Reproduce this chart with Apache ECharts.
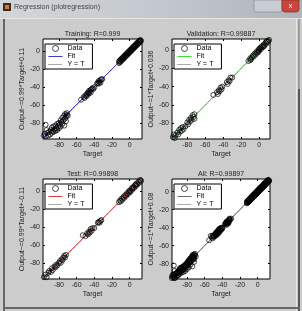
<!DOCTYPE html>
<html>
<head>
<meta charset="utf-8">
<script src="https://cdn.jsdelivr.net/npm/echarts@6/dist/echarts.min.js"></script>
<style>
html, body { margin: 0; padding: 0; background: #cccccc; }
#main { width: 302px; height: 311px; }
</style>
</head>
<body>
<div id="main"></div>
<script>
// panel texts
var panelTitles = ['Training: R=0.999', 'Validation: R=0.99887', 'Test: R=0.99898', 'All: R=0.99897'];
var yAxisNames = ['Output~=0.99*Target+0.11', 'Output~=1*Target+0.036', 'Output~=0.99*Target+-0.11', 'Output~=1*Target+0.08'];
var tickValues = [-80, -60, -40, -20, 0];
var axisMin = [-98, -97, -98, -97];
var axisMax = [14, 12, 14, 14];
var fitSlope = [0.99, 1, 0.99, 1];
var fitIntercept = [0.11, 0.036, -0.11, 0.08];
var fitColors = ['#3b3bd8', '#3cdc3c', '#e03a3a', '#6a6a6a'];

// [target, output] pairs
var trainPts = [
    [-97,-94],[-96,-92],[-95,-95],[-95,-82],[-94,-88],[-93,-91],[-92,-94],[-91,-90],[-90,-93],[-89,-88],
    [-88,-85],[-88,-91],[-87,-89],[-86,-84],[-86,-90],[-85,-87],[-84,-83],[-84,-89],[-83,-86],[-82,-81],
    [-82,-88],[-81,-84],[-80,-86],[-80,-80],[-79,-82],[-78,-77],[-78,-84],[-77,-79],[-76,-74],[-76,-81],
    [-75,-77],[-74,-72],[-74,-83],[-73,-75],[-73,-70],[-72,-78],[-72,-73],[-71,-71],[-71,-69],[-70,-72],
    [-55,-54],[-52,-51],[-51,-52],[-50,-49],[-49,-50],[-48,-47],[-48,-49],[-47,-46],[-46,-47],[-46,-44],
    [-45,-45],[-44,-43],[-44,-46],[-43,-42],[-42,-41],[-41,-42],[-40,-40],[-37,-36],[-36,-35],[-35,-36],
    [-35,-33],[-34,-34],[-33,-32],[-33,-35],[-32,-31],[-31,-31],
    [-12,-13],[-12,-11],[-11,-12],[-11,-10],[-10,-11],[-10,-9],[-9,-10],[-9,-8],[-8,-9],[-8,-7],
    [-7,-8],[-7,-6],[-6,-7],[-6,-5],[-5,-6],[-5,-4],[-4,-5],[-4,-3],[-3,-4],[-3,-2],
    [-2,-3],[-2,-1],[-1,-2],[-1,0],[0,-1],[0,1],[1,0],[1,2],[2,1],[2,3],
    [3,2],[3,4],[4,3],[4,5],[5,4],[5,6],[6,5],[6,7],[7,6],[7,8],
    [8,7],[8,9],[9,8],[9,10],[10,9],[10,11],[11,10],[11,12],[12,11],[12,13],[13,12]
];
var valPts = [
    [-96,-95],[-95,-92],[-94,-96],[-93,-93],[-91,-90],[-90,-92],[-89,-87],[-88,-89],[-87,-85],[-86,-88],
    [-85,-84],[-84,-86],[-82,-83],[-80,-79],[-79,-81],[-78,-76],[-77,-78],[-76,-74],[-75,-76],[-74,-71],
    [-73,-73],[-72,-70],[-72,-75],
    [-51,-49],[-47,-46],[-46,-48],[-45,-44],[-44,-45],[-43,-41],[-42,-43],[-41,-40],[-36,-35],[-35,-37],
    [-34,-33],[-33,-34],[-32,-30],[-30,-30],
    [-12,-12],[-10,-11],[-10,-9],[-9,-10],[-8,-8],[-7,-6],[-6,-7],[-5,-4],[-4,-5],[-3,-2],[-2,-3],
    [-1,0],[-1,-2],[0,-1],[0,1],[1,2],[2,1],[2,3],[3,4],[4,3],[5,6],[5,4],[6,5],[7,8],[8,7],
    [8,9],[9,10],[10,9],[11,11]
];
var testPts = [
    [-97,-96],[-95,-93],[-94,-96],[-92,-91],[-91,-89],[-89,-90],[-88,-86],[-87,-88],[-85,-84],[-84,-85],
    [-83,-82],[-82,-83],[-80,-80],[-79,-78],[-78,-80],[-77,-76],[-76,-77],[-75,-74],[-74,-72],[-73,-74],
    [-72,-71],
    [-53,-49],[-50,-50],[-48,-47],[-47,-48],[-46,-45],[-45,-46],[-44,-42],[-43,-44],[-42,-41],[-40,-41],
    [-36,-35],[-35,-34],[-34,-35],[-33,-33],[-32,-32],
    [-12,-12],[-11,-10],[-10,-11],[-9,-8],[-8,-9],[-7,-6],[-6,-7],[-5,-4],[-4,-5],[-3,-2],
    [-2,-3],[-1,0],[0,-1],[0,1],[1,0],[2,3],[3,2],[3,4],[4,5],[5,4],[6,7],[7,6],
    [7,8],[8,9],[9,8],[10,11],[11,10],[12,13],[13,12]
];
var allPts = trainPts.concat(valPts, testPts);

var panelData = [trainPts, valPts, testPts, allPts];
var legendLabels = { Data: 'Data', Fit: 'Fit', YT: 'Y = T' };

var boxes = [[43, 39, 99, 100], [172, 39, 98, 100], [43, 179, 99, 100], [172, 179, 98, 100]];
var font = 'Liberation Sans';

var grids = [], xAxes = [], yAxes = [], series = [], legends = [], graphics = [];

// window frame bits
graphics.push(
    { type: 'rect', shape: { x: 0, y: 0, width: 302, height: 18 }, style: { fill: new echarts.graphic.LinearGradient(0, 0, 1, 0, [{ offset: 0, color: '#d3d6da' }, { offset: 0.5, color: '#c4c9cf' }, { offset: 1, color: '#aeb4bb' }]) }, z: 10 },
    { type: 'rect', shape: { x: 0, y: 18, width: 302, height: 1 }, style: { fill: '#e4e4e4' }, z: 10 },
    { type: 'rect', shape: { x: 3, y: 3, width: 8, height: 8 }, style: { fill: '#3a2a20' }, z: 11 },
    { type: 'rect', shape: { x: 5, y: 5, width: 4, height: 4 }, style: { fill: '#d9772a' }, z: 12 },
    { type: 'text', x: 14, y: 7.5, style: { text: 'Regression (plotregression)', fontSize: 7, fontFamily: font, fill: '#444', textVerticalAlign: 'middle' }, z: 12 },
    { type: 'rect', shape: { x: 254, y: 0, width: 28, height: 12, r: [0, 0, 2, 2] }, style: { fill: '#c9cdd3', stroke: '#8d939b', lineWidth: 0.8 }, z: 11 },
    { type: 'rect', shape: { x: 282, y: 0, width: 17, height: 12, r: [0, 0, 3, 3] }, style: { fill: '#c8463d', stroke: '#8e2e28', lineWidth: 0.8 }, z: 11 },
    { type: 'text', x: 290.5, y: 6, style: { text: 'x', fontSize: 7, fontFamily: font, fill: '#fff', textAlign: 'center', textVerticalAlign: 'middle' }, z: 12 },
    { type: 'rect', shape: { x: 3, y: 19, width: 2, height: 292 }, style: { fill: '#666' }, z: 10 },
    { type: 'rect', shape: { x: 296, y: 19, width: 1, height: 292 }, style: { fill: '#e6e6e6' }, z: 10 },
    { type: 'rect', shape: { x: 298, y: 19, width: 2, height: 70 }, style: { fill: '#a0a0a0' }, z: 10 },
    { type: 'rect', shape: { x: 298, y: 89, width: 2, height: 222 }, style: { fill: '#555' }, z: 10 },
    { type: 'rect', shape: { x: 3, y: 307, width: 297, height: 2 }, style: { fill: '#666' }, z: 10 }
);

for (var i = 0; i < 4; i++) {
    var b = boxes[i], lo = axisMin[i], hi = axisMax[i];
    grids.push({ left: b[0], top: b[1], width: b[2], height: b[3], show: true, backgroundColor: '#fff', borderColor: '#000', borderWidth: 1 });

    var tick = { inside: true, length: 2, customValues: tickValues, lineStyle: { color: '#000', width: 1 } };
    var label = { customValues: tickValues, fontSize: 7, fontFamily: font, color: '#222', margin: 3 };
    var nameStyle = { fontSize: 7, fontFamily: font, color: '#222' };
    var noLine = { show: false, onZero: false };

    xAxes.push({
        type: 'value', gridIndex: i, min: lo, max: hi, position: 'bottom',
        axisLine: noLine, splitLine: { show: false }, axisTick: tick, axisLabel: label,
        name: 'Target', nameLocation: 'middle', nameGap: 12, nameTextStyle: nameStyle
    });
    xAxes.push({
        type: 'value', gridIndex: i, min: lo, max: hi, position: 'top',
        axisLine: noLine, splitLine: { show: false }, axisTick: tick, axisLabel: { show: false }
    });
    yAxes.push({
        type: 'value', gridIndex: i, min: lo, max: hi, position: 'left',
        axisLine: noLine, splitLine: { show: false }, axisTick: tick, axisLabel: label,
        name: yAxisNames[i], nameLocation: 'middle', nameGap: 13, nameTextStyle: nameStyle
    });
    yAxes.push({
        type: 'value', gridIndex: i, min: lo, max: hi, position: 'right',
        axisLine: noLine, splitLine: { show: false }, axisTick: tick, axisLabel: { show: false }
    });

    series.push({
        type: 'line', name: 'YT' + i, xAxisIndex: i * 2, yAxisIndex: i * 2,
        data: [[lo, lo], [hi, hi]], symbol: 'none', silent: true,
        lineStyle: { color: '#555', width: 1, type: 'dotted' }, itemStyle: { color: '#555' }, z: 2
    });
    series.push({
        type: 'line', name: 'Fit' + i, xAxisIndex: i * 2, yAxisIndex: i * 2,
        data: [[lo, fitSlope[i] * lo + fitIntercept[i]], [hi, fitSlope[i] * hi + fitIntercept[i]]],
        symbol: 'none', silent: true,
        lineStyle: { color: fitColors[i], width: 1 }, itemStyle: { color: fitColors[i] }, z: 3
    });
    series.push({
        type: 'scatter', name: 'Data' + i, xAxisIndex: i * 2, yAxisIndex: i * 2,
        data: panelData[i], symbol: 'circle', symbolSize: 5, silent: true,
        itemStyle: { color: 'rgba(0,0,0,0)', borderColor: '#000', borderWidth: 0.9 }, z: 4
    });

    var hidden = { color: 'rgba(0,0,0,0)', borderColor: 'rgba(0,0,0,0)', borderWidth: 0 };
    legends.push({
        left: b[0] + 2, top: b[1] + 5, orient: 'vertical',
        data: [
            { name: 'Data' + i, icon: 'circle', itemStyle: { color: 'rgba(0,0,0,0)', borderColor: '#000', borderWidth: 0.9 } },
            { name: 'Fit' + i, itemStyle: hidden },
            { name: 'YT' + i, itemStyle: hidden }
        ],
        formatter: function (name) { return legendLabels[name.replace(/\d+$/, '')]; },
        itemWidth: 14, itemHeight: 6, itemGap: 1, padding: [1, 8, 1, 3],
        lineStyle: { width: 1 },
        backgroundColor: '#fff', borderColor: '#000', borderWidth: 1,
        selectedMode: false, textStyle: { fontSize: 7, fontFamily: font, color: '#000' }
    });

    graphics.push({
        type: 'text', x: b[0] + b[2] / 2, y: b[1] - 5,
        style: { text: panelTitles[i], fontSize: 7, fontFamily: font, fill: '#222', textAlign: 'center', textVerticalAlign: 'middle' }
    });
}

var chart = echarts.init(document.getElementById('main'));
chart.setOption({
    backgroundColor: '#cccccc',
    animation: false,
    grid: grids,
    xAxis: xAxes,
    yAxis: yAxes,
    legend: legends,
    series: series,
    graphic: graphics
});
</script>
</body>
</html>
